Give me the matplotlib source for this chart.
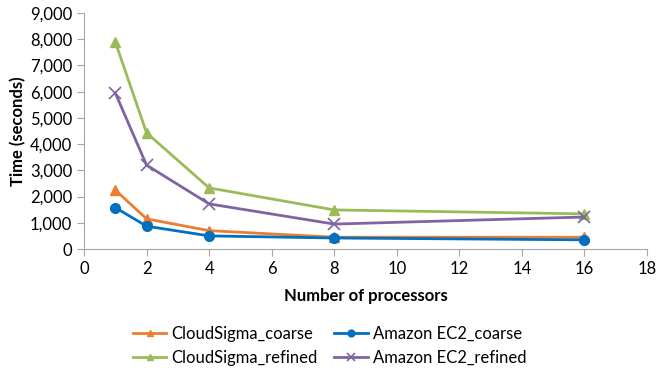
import matplotlib
matplotlib.use("Agg")
import matplotlib.pyplot as plt
from matplotlib.ticker import FuncFormatter

plt.rcParams['font.family'] = ['Lato', 'DejaVu Sans']

# processors and run times (seconds)
procs = [1, 2, 4, 8, 16]
cloudsigma_coarse = [2250, 1150, 700, 450, 450]
amazon_coarse = [1580, 870, 500, 420, 350]
cloudsigma_refined = [7900, 4430, 2330, 1490, 1340]
amazon_refined = [5950, 3200, 1720, 950, 1220]

fig = plt.figure(figsize=(6.59, 3.75), dpi=100)
ax = fig.add_axes([84 / 659, 1 - 249 / 375, (647 - 84) / 659, (249 - 13) / 375])

l1, = ax.plot(procs, cloudsigma_coarse, color='#ED7D31', lw=2, marker='^', ms=7, label='CloudSigma_coarse')
l2, = ax.plot(procs, amazon_coarse, color='#0070C0', lw=2, marker='o', ms=7, label='Amazon EC2_coarse')
l3, = ax.plot(procs, cloudsigma_refined, color='#9BBB59', lw=2, marker='^', ms=7, label='CloudSigma_refined')
l4, = ax.plot(procs, amazon_refined, color='#8064A2', lw=2, marker='x', ms=8, mew=1.2, label='Amazon EC2_refined')

ax.set_xlim(0, 18)
ax.set_ylim(0, 9000)
ax.set_xticks(range(0, 19, 2))
ax.set_yticks(range(0, 9001, 1000))
ax.yaxis.set_major_formatter(FuncFormatter(lambda v, p: f"{int(v):,}"))

for s in ['top', 'right']:
    ax.spines[s].set_visible(False)
for s in ['left', 'bottom']:
    ax.spines[s].set_color('#A6A6A6')
ax.tick_params(colors='#A6A6A6', labelcolor='black', labelsize=12, length=5)

ax.set_xlabel('Number of processors', fontsize=12, fontweight='bold', labelpad=8)
ax.set_ylabel('Time (seconds)', fontsize=12, fontweight='bold', labelpad=3)

# matplotlib fills legend column-wise, so order handles to read row-wise
fig.legend([l1, l3, l2, l4], [l.get_label() for l in (l1, l3, l2, l4)],
           loc='lower center', bbox_to_anchor=(0.5, -0.015), ncol=2, frameon=False,
           fontsize=12, handlelength=2.0, markerscale=0.7, columnspacing=1.0,
           labelspacing=0.45, handletextpad=0.3)

fig.savefig('out.png', dpi=100)
